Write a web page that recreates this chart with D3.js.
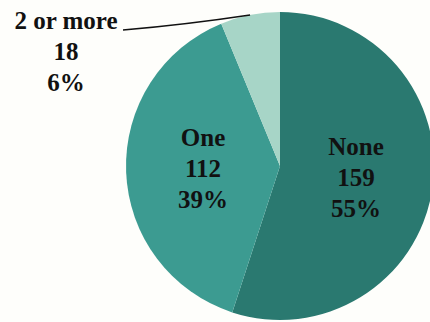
<!DOCTYPE html>
<html>
<head>
<meta charset="utf-8">
<script src="https://cdn.jsdelivr.net/npm/d3@7"></script>
<style>
  html, body { margin: 0; padding: 0; background: #fefefb; }
  svg { display: block; }
</style>
</head>
<body>
<svg id="chart" width="430" height="322"></svg>
<script>
// Number of items per respondent
const categories = ["None", "One", "2 or more"];
const counts = [159, 112, 18];
const percentLabels = ["55%", "39%", "6%"];
const sliceColors = ["#2a7970", "#3c9b91", "#a7d5c7"];

const width = 430, height = 322;
const cx = 280, cy = 166, radius = 154;
const fontSize = 25, lineGap = 31;
const fontFamily = "Liberation Serif";

const svg = d3.select("#chart");
svg.append("rect").attr("width", width).attr("height", height).attr("fill", "#fefefb");

const data = categories.map((c, i) => ({ name: c, value: counts[i], pct: percentLabels[i], color: sliceColors[i] }));

const pie = d3.pie().value(d => d.value).sort(null);
const arcs = pie(data);

const arc = d3.arc().innerRadius(0).outerRadius(radius);
const labelArc = d3.arc().innerRadius(radius * 0.5).outerRadius(radius * 0.5);
const edgeArc = d3.arc().innerRadius(radius).outerRadius(radius);

const g = svg.append("g").attr("transform", `translate(${cx},${cy})`);

g.selectAll("path.slice")
  .data(arcs)
  .join("path")
  .attr("class", "slice")
  .attr("d", arc)
  .attr("fill", d => d.data.color);

function labelBlock(parent, x, y0, lines) {
  const t = parent.append("text")
    .attr("text-anchor", "middle")
    .attr("font-family", fontFamily)
    .attr("font-weight", "bold")
    .attr("font-size", fontSize)
    .attr("fill", "#111");
  lines.forEach((s, i) => {
    t.append("tspan").attr("x", x).attr("y", y0 + i * lineGap).text(s);
  });
}

// Inside labels for the two large slices
arcs.slice(0, 2).forEach(a => {
  const [x, y] = labelArc.centroid(a);
  labelBlock(g, x, y + 8 - lineGap, [a.data.name, a.data.value, a.data.pct]);
});

// Outside label with a leader line for the small slice
const small = arcs[2];
const [ex, ey] = edgeArc.centroid(small);
const lx = 66, ly = 29;
const start = [lx + 57 - cx, ly + 1 - cy];
const end = [ex, ey];
const ctrl = [(start[0] + end[0]) / 2, (start[1] + end[1]) / 2 + 2];
g.append("path")
  .attr("d", `M${start[0]},${start[1]} Q${ctrl[0]},${ctrl[1]} ${end[0]},${end[1]}`)
  .attr("fill", "none")
  .attr("stroke", "#111")
  .attr("stroke-width", 1.4);

labelBlock(svg, lx, ly, [small.data.name, small.data.value, small.data.pct]);
</script>
</body>
</html>
